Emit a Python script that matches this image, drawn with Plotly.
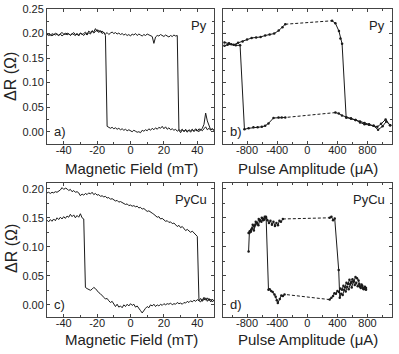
import plotly.graph_objects as go

# ---- panel a) Py, field sweep (mT, Ohm) ----
a_up_x = list(range(-50, 51))
a_up_y = [0.197, 0.199, 0.196, 0.200, 0.197, 0.201, 0.198, 0.196, 0.200, 0.202,
          0.199, 0.198, 0.201, 0.199, 0.197, 0.200, 0.198, 0.196, 0.199, 0.195,
          0.201, 0.198, 0.200, 0.203, 0.199, 0.205, 0.202, 0.206, 0.203, 0.210,
          0.204, 0.207, 0.203, 0.205, 0.201, 0.199, 0.202, 0.198, 0.201, 0.203,
          0.200, 0.202, 0.199, 0.201, 0.198, 0.200, 0.197, 0.199, 0.196, 0.198,
          0.195, 0.199, 0.197, 0.200, 0.196, 0.199, 0.197, 0.195, 0.198, 0.196,
          0.199, 0.197, 0.196, 0.194, 0.180, 0.193, 0.196, 0.195, 0.198, 0.196,
          0.194, 0.197, 0.195, 0.193, 0.196, 0.194, 0.197, 0.195, 0.196,
          0.003, -0.002, 0.004, 0.000, 0.005, 0.001, 0.003, -0.001, 0.004, 0.002,
          0.006, 0.003, 0.000, 0.005, 0.002, 0.006, 0.010, 0.004, 0.007, 0.003,
          0.006, 0.002]
a_dn_x = list(range(50, -51, -1))
a_dn_y = [0.003, 0.006, 0.004, 0.012, 0.022, 0.038, 0.015, 0.007, 0.003, 0.006,
          0.001, 0.004, 0.000, 0.005, 0.002, 0.004, -0.001, 0.003, 0.001, 0.005,
          0.002, 0.004, 0.001, 0.005, 0.003, 0.006, 0.004, 0.008, 0.005, 0.010,
          0.006, 0.011, 0.007, 0.009, 0.005, 0.008, 0.004, 0.007, 0.003, 0.006,
          0.002, 0.004, 0.001, 0.003, -0.002, 0.000, -0.001, 0.001, 0.003, 0.000,
          0.002, 0.004, 0.002, 0.005, 0.003, 0.006, 0.004, 0.007, 0.005, 0.008,
          0.006, 0.009, 0.007, 0.010, 0.011,
          0.196, 0.203, 0.200, 0.206, 0.202, 0.208, 0.204, 0.201, 0.205, 0.199,
          0.202, 0.197, 0.200, 0.196, 0.199, 0.201, 0.197, 0.200, 0.198, 0.202,
          0.199, 0.196, 0.200, 0.197, 0.201, 0.198, 0.195, 0.199, 0.196, 0.200,
          0.197, 0.199, 0.195, 0.198, 0.196, 0.199]

# ---- panel b) Py, pulse sweep (uA, Ohm) ----
b_up1_x = [-1100, -1040, -980, -920, -860, -800, -740, -680, -620, -560, -500, -440, -380, -330, -293]
b_up1_y = [0.182, 0.180, 0.177, 0.181, 0.184, 0.188, 0.191, 0.192, 0.193, 0.196, 0.198, 0.200, 0.206, 0.213, 0.219]
b_up2_x = [329, 373, 420, 440, 462, 516, 580, 640, 700, 760, 820, 880, 930, 980, 1040, 1100]
b_up2_y = [0.226, 0.221, 0.205, 0.190, 0.179, 0.029, 0.027, 0.024, 0.019, 0.015, 0.014, 0.012, 0.010, 0.016, 0.025, 0.013]
b_dn1_x = [1100, 1050, 1000, 940, 880, 820, 760, 700, 640, 580, 520, 460, 418, 373]
b_dn1_y = [0.013, 0.021, 0.011, 0.004, 0.012, 0.015, 0.018, 0.021, 0.024, 0.027, 0.029, 0.033, 0.037, 0.039]
b_dn2_x = [-293, -340, -382, -449, -516, -560, -604, -660, -716, -780, -835, -893, -950, -1010, -1060, -1100]
b_dn2_y = [0.029, 0.029, 0.029, 0.028, 0.017, 0.012, 0.010, 0.009, 0.009, 0.007, 0.005, 0.176, 0.176, 0.178, 0.177, 0.175]

# ---- panel c) PyCu, field sweep ----
c_up_x = list(range(-50, 51))
c_up_y = [0.146, 0.143, 0.147, 0.144, 0.148, 0.145, 0.150, 0.147, 0.151, 0.148,
          0.152, 0.149, 0.153, 0.151, 0.156, 0.152, 0.155, 0.150, 0.154, 0.151,
          0.157, 0.150, 0.148,
          0.030, 0.028, 0.026, 0.025, 0.027, 0.030, 0.028, 0.024, 0.021, 0.019,
          0.015, 0.013, 0.010, 0.011, 0.007, 0.004, 0.006, 0.002, -0.003, 0.001,
          -0.004, -0.002, -0.005, 0.000, -0.003, 0.001, -0.002, 0.002, -0.001, 0.001,
          -0.004, -0.002, -0.007, -0.010, -0.014, -0.009, -0.006, -0.003, -0.005, 0.000,
          -0.002, 0.001, -0.003, 0.000, -0.002, 0.001, -0.001, 0.002, 0.000, 0.002,
          0.001, 0.003, 0.000, 0.002, 0.001, 0.004, 0.002, 0.003, 0.001, 0.004,
          0.003, 0.006, 0.004, 0.007, 0.005, 0.008, 0.006, 0.009, 0.007, 0.011,
          0.006, 0.013, 0.008, 0.012, 0.007, 0.010, 0.005, 0.008]
c_dn_x = list(range(50, -51, -1))
c_dn_y = [0.006, 0.010, 0.005, 0.011, 0.006, 0.012, 0.008, 0.010, 0.005, 0.007,
          0.118, 0.121, 0.124, 0.127, 0.125, 0.128, 0.130, 0.128, 0.132, 0.135,
          0.133, 0.137, 0.135, 0.139, 0.141, 0.140, 0.143, 0.142, 0.145, 0.144,
          0.147, 0.149, 0.148, 0.152, 0.151, 0.154, 0.156, 0.158, 0.160, 0.162,
          0.161, 0.164, 0.166, 0.165, 0.168, 0.167, 0.170, 0.169, 0.171, 0.170,
          0.172, 0.171, 0.174, 0.173, 0.175, 0.176, 0.178, 0.177, 0.180, 0.179,
          0.181, 0.183, 0.182, 0.185, 0.184, 0.187, 0.186, 0.188, 0.187, 0.190,
          0.189, 0.192, 0.190, 0.194, 0.191, 0.193, 0.190, 0.192, 0.189, 0.191,
          0.188, 0.193, 0.195, 0.194, 0.197, 0.195, 0.199, 0.197, 0.200, 0.201,
          0.199, 0.202, 0.198, 0.196, 0.194, 0.195, 0.193, 0.194, 0.192, 0.194,
          0.193]

# ---- panel d) PyCu, pulse sweep ----
d_up1_x = [-780, -770, -750, -730, -710, -690, -670, -650, -630, -610, -590, -570,
           -550, -530, -510, -490, -470, -450, -430, -410, -390, -370, -350, -325]
d_up1_y = [0.092, 0.124, 0.126, 0.132, 0.128, 0.138, 0.141, 0.137, 0.146, 0.143, 0.149, 0.147,
           0.152, 0.146, 0.141, 0.145, 0.138, 0.143, 0.136, 0.141, 0.137, 0.145, 0.143, 0.148]
d_up2_x = [297, 320, 342, 364, 417, 431, 450, 470, 490, 510, 530, 550, 570, 590, 610,
           630, 650, 670, 690, 710, 730, 750, 765, 780]
d_up2_y = [0.150, 0.152, 0.146, 0.149, 0.060, 0.012, 0.019, 0.017, 0.026, 0.023, 0.031, 0.027,
           0.036, 0.030, 0.040, 0.034, 0.038, 0.032, 0.036, 0.029, 0.033, 0.027, 0.031, 0.029]
d_dn1_x = [780, 760, 740, 720, 700, 680, 660, 640, 620, 600, 580, 560, 540, 520, 500,
           480, 460, 440, 420, 400, 380, 360, 342, 320, 297]
d_dn1_y = [0.026, 0.030, 0.028, 0.035, 0.031, 0.042, 0.046, 0.048, 0.040, 0.044, 0.038, 0.043,
           0.036, 0.038, 0.030, 0.033, 0.026, 0.028, 0.022, 0.024, 0.019, 0.020, 0.015, 0.012, 0.009]
d_dn2_x = [-303, -325, -345, -365, -392, -405, -420, -436, -460, -480, -500, -516,
           -547, -565, -585, -605, -625, -645, -665, -685, -705, -725, -745, -765, -780]
d_dn2_y = [0.018, 0.015, 0.016, 0.010, 0.003, 0.008, 0.014, 0.018, 0.022, 0.024, 0.027, 0.026,
           0.150, 0.152, 0.146, 0.150, 0.145, 0.148, 0.140, 0.143, 0.135, 0.138, 0.130, 0.127, 0.124]

field_ticks = [-40, -20, 0, 20, 40]
field_labels = ["-40", "-20", "0", "20", "40"]
pulse_ticks = [-800, -400, 0, 400, 800]
pulse_labels = ["-800", "-400", "0", "400", "800"]
top_yticks = [0.00, 0.05, 0.10, 0.15, 0.20, 0.25]
bot_yticks = [0.00, 0.05, 0.10, 0.15, 0.20]

INK = "#1a1a1a"
FONT = "Liberation Sans, Arial, sans-serif"
W, H = 399, 354

fig = go.Figure()


def solid(x, y, ax, dots=False):
    fig.add_trace(go.Scatter(
        x=x, y=y, xaxis=ax[0], yaxis=ax[1],
        mode="lines+markers" if dots else "lines",
        line=dict(color=INK, width=1),
        marker=dict(size=2.5, color=INK),
        showlegend=False, hoverinfo="skip"))


def dashed(x0, y0, x1, y1, ax):
    fig.add_trace(go.Scatter(
        x=[x0, x1], y=[y0, y1], xaxis=ax[0], yaxis=ax[1], mode="lines",
        line=dict(color=INK, width=1, dash="3px,2px"),
        showlegend=False, hoverinfo="skip"))


solid(a_up_x, a_up_y, ("x", "y"))
solid(a_dn_x, a_dn_y, ("x", "y"))

solid(b_up1_x, b_up1_y, ("x2", "y2"), True)
dashed(b_up1_x[-1], b_up1_y[-1], b_up2_x[0], b_up2_y[0], ("x2", "y2"))
solid(b_up2_x, b_up2_y, ("x2", "y2"), True)
solid(b_dn1_x, b_dn1_y, ("x2", "y2"), True)
dashed(b_dn1_x[-1], b_dn1_y[-1], b_dn2_x[0], b_dn2_y[0], ("x2", "y2"))
solid(b_dn2_x, b_dn2_y, ("x2", "y2"), True)

solid(c_up_x, c_up_y, ("x3", "y3"))
solid(c_dn_x, c_dn_y, ("x3", "y3"))

solid(d_up1_x, d_up1_y, ("x4", "y4"), True)
dashed(d_up1_x[-1], d_up1_y[-1], d_up2_x[0], d_up2_y[0], ("x4", "y4"))
solid(d_up2_x, d_up2_y, ("x4", "y4"), True)
solid(d_dn1_x, d_dn1_y, ("x4", "y4"), True)
dashed(d_dn1_x[-1], d_dn1_y[-1], d_dn2_x[0], d_dn2_y[0], ("x4", "y4"))
solid(d_dn2_x, d_dn2_y, ("x4", "y4"), True)

frame = dict(showline=True, linecolor="#444", linewidth=1, mirror="ticks",
             ticks="inside", ticklen=3, tickcolor="#444", zeroline=False,
             showgrid=False, automargin=False,
             tickfont=dict(size=11, color="#222", family=FONT))
xframe = dict(frame, ticklabelstandoff=-4)
minor = dict(ticks="inside", ticklen=2, tickcolor="#444")

xa = [47 / W, 214 / W]
xb = [223 / W, 392 / W]
yt = [1 - 144 / H, 1 - 9 / H]
yb = [1 - 317 / H, 1 - 183 / H]

fig.update_layout(
    width=W, height=H, margin=dict(l=0, r=0, t=0, b=0, autoexpand=False),
    paper_bgcolor="white", plot_bgcolor="white",
    font=dict(family=FONT),
    xaxis=dict(xframe, domain=xa, anchor="y", range=[-50, 50],
               tickvals=field_ticks, ticktext=field_labels,
               minor=dict(minor, dtick=10, tick0=0)),
    yaxis=dict(frame, domain=yt, anchor="x", range=[-0.025, 0.25],
               tickvals=top_yticks, tickformat=".2f",
               minor=dict(minor, dtick=0.025, tick0=0)),
    xaxis2=dict(xframe, domain=xb, anchor="y2", range=[-1120, 1125],
                tickvals=pulse_ticks, ticktext=pulse_labels,
                minor=dict(minor, dtick=200, tick0=0)),
    yaxis2=dict(frame, domain=yt, anchor="x2", range=[-0.025, 0.25],
                tickvals=top_yticks, showticklabels=False,
                minor=dict(minor, dtick=0.025, tick0=0)),
    xaxis3=dict(xframe, domain=xa, anchor="y3", range=[-50, 50],
                tickvals=field_ticks, ticktext=field_labels,
                minor=dict(minor, dtick=10, tick0=0)),
    yaxis3=dict(frame, domain=yb, anchor="x3", range=[-0.021, 0.21],
                tickvals=bot_yticks, tickformat=".2f",
                minor=dict(minor, dtick=0.025, tick0=0)),
    xaxis4=dict(xframe, domain=xb, anchor="y4", range=[-1120, 1125],
                tickvals=pulse_ticks, ticktext=pulse_labels,
                minor=dict(minor, dtick=200, tick0=0)),
    yaxis4=dict(frame, domain=yb, anchor="x4", range=[-0.021, 0.21],
                tickvals=bot_yticks, showticklabels=False,
                minor=dict(minor, dtick=0.025, tick0=0)),
)

# axis titles placed in pixel positions of the original figure
title_font = dict(size=15, color="#222", family=FONT)
x_titles = [("Magnetic Field (mT)", 131, 168), ("Pulse Amplitude (μA)", 308, 168),
            ("Magnetic Field (mT)", 131, 339), ("Pulse Amplitude (μA)", 308, 339)]
for text, px_, py_ in x_titles:
    fig.add_annotation(text=text, xref="paper", yref="paper", x=px_ / W, y=1 - py_ / H,
                       xanchor="center", yanchor="middle", showarrow=False, font=title_font)
for py_ in (77, 249):
    fig.add_annotation(text="ΔR (Ω)", xref="paper", yref="paper", x=11 / W, y=1 - py_ / H,
                       xanchor="center", yanchor="middle", textangle=-90, showarrow=False,
                       font=dict(title_font, size=16))

panel_letters = ["a)", "b)", "c)", "d)"]
sample_names = ["Py", "Py", "PyCu", "PyCu"]
axes_ids = ["", "2", "3", "4"]
for letter, name, k in zip(panel_letters, sample_names, axes_ids):
    fig.add_annotation(text=letter, xref=f"x{k} domain", yref=f"y{k} domain",
                       x=0.03, y=0.02, xanchor="left", yanchor="bottom",
                       showarrow=False, font=dict(size=13, color="#222", family=FONT))
    fig.add_annotation(text=name, xref=f"x{k} domain", yref=f"y{k} domain",
                       x=0.97, y=0.95, xanchor="right", yanchor="top",
                       showarrow=False, font=dict(size=13, color="#222", family=FONT))

# the page body has a default 8px margin; remove it so the figure fills the window
fig.write_html("out.html", config={"displayModeBar": False},
               post_script="document.body.style.margin = '0';")
